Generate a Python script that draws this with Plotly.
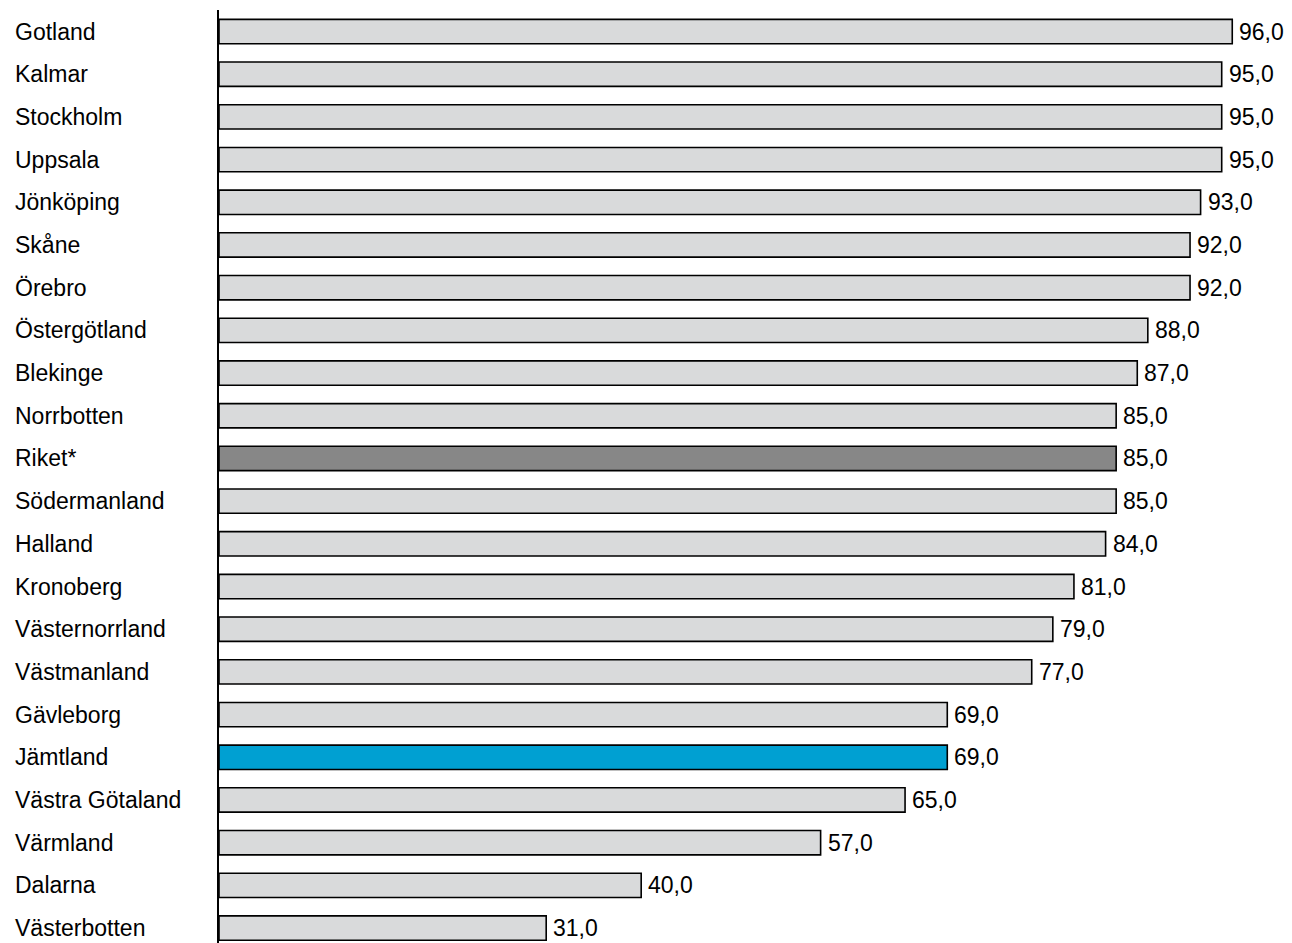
import plotly.graph_objects as go

categories = ["Gotland", "Kalmar", "Stockholm", "Uppsala", "Jönköping", "Skåne", "Örebro",
              "Östergötland", "Blekinge", "Norrbotten", "Riket*", "Södermanland", "Halland",
              "Kronoberg", "Västernorrland", "Västmanland", "Gävleborg", "Jämtland",
              "Västra Götaland", "Värmland", "Dalarna", "Västerbotten"]
values = [96, 95, 95, 95, 93, 92, 92, 88, 87, 85, 85, 85, 84, 81, 79, 77, 69, 69, 65, 57, 40, 31]

GRAY = "#D9DADB"
DARK = "#878787"
BLUE = "#00A0D2"
colors = [DARK if c == "Riket*" else BLUE if c == "Jämtland" else GRAY for c in categories]

FONT = "Liberation Sans, Arial, sans-serif"
FS = 23

fig = go.Figure(go.Bar(
    x=values, y=categories, orientation="h",
    marker=dict(color=colors, line=dict(color="black", width=1.6)),
    hoverinfo="skip",
))

annotations = []
for c, v in zip(categories, values):
    annotations.append(dict(x=0, xref="paper", y=c, yref="y", text=c, showarrow=False,
                            xanchor="left", xshift=-206, font=dict(family=FONT, size=FS, color="black")))
    annotations.append(dict(x=v, xref="x", y=c, yref="y", text=f"{v:.1f}".replace(".", ","),
                            showarrow=False, xanchor="left", xshift=5,
                            font=dict(family=FONT, size=FS, color="black")))

fig.update_layout(
    width=1292, height=943,
    margin=dict(l=219, r=0, t=10, b=0),
    paper_bgcolor="white", plot_bgcolor="white",
    bargap=0.43, showlegend=False,
    annotations=annotations,
    xaxis=dict(range=[0, 101.66], visible=False, showgrid=False, zeroline=False),
    yaxis=dict(type="category", range=[21.35, -0.504], showticklabels=False, ticks="",
               showgrid=False, zeroline=False, showline=True, linecolor="black", linewidth=2),
)

fig.write_html("out.html", config={"displayModeBar": False})
